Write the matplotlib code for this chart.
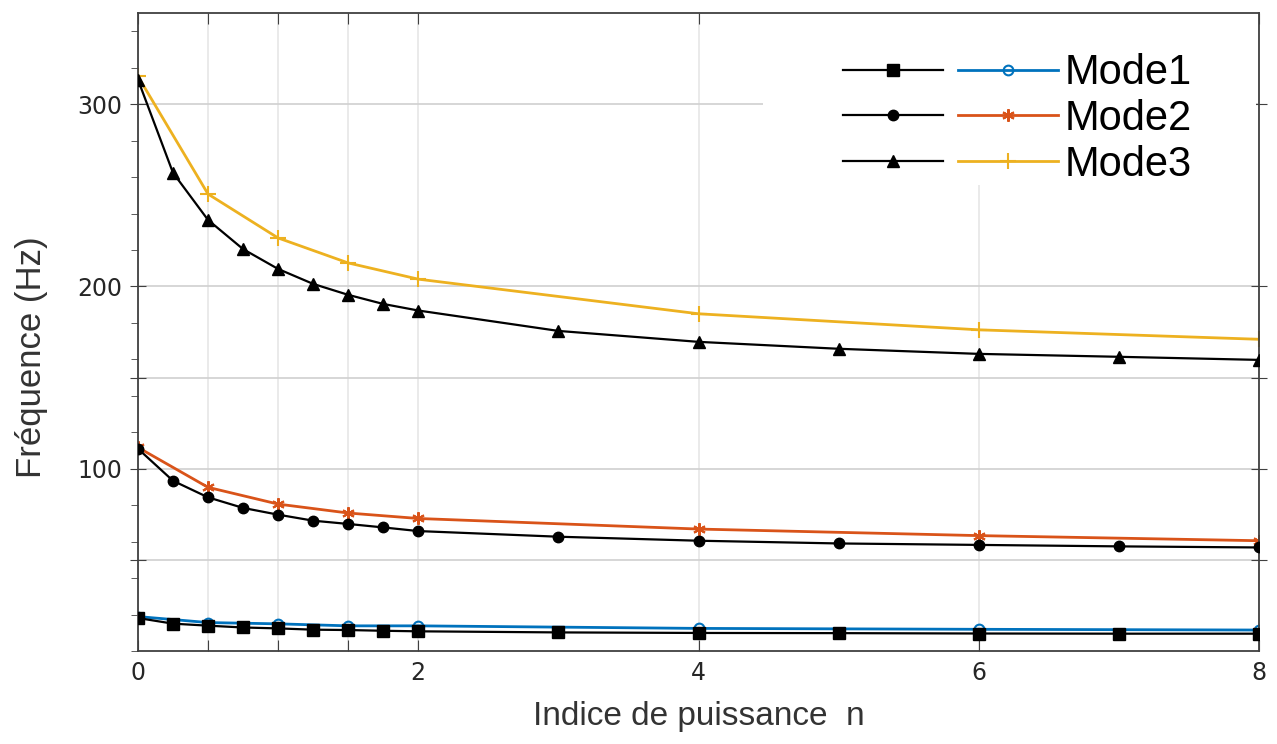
import matplotlib
matplotlib.use('Agg')
import matplotlib.pyplot as plt
from matplotlib.legend_handler import HandlerTuple
from matplotlib.patches import Rectangle
from matplotlib.ticker import FixedLocator, MultipleLocator

# === DATA ===
n_fgm = [0, 0.25, 0.5, 0.75, 1, 1.25, 1.5, 1.75, 2, 3, 4, 5, 6, 7, 8]
mode1_fgm = [18.1, 15.0, 13.9, 12.9, 12.4, 11.7, 11.5, 11.1, 10.8, 10.2, 9.9, 9.8, 9.6, 9.5, 9.5]
mode2_fgm = [111.0, 93.4, 84.3, 78.5, 74.8, 71.5, 69.7, 67.8, 65.8, 62.7, 60.5, 59.0, 58.2, 57.4, 56.8]
mode3_fgm = [313.5, 262.4, 236.5, 220.5, 209.6, 201.4, 195.4, 190.4, 186.8, 175.6, 169.6, 165.8, 163.0, 161.4, 159.7]

n_ref = [0, 0.5, 1, 1.5, 2, 4, 6, 8]
mode1_ref = [18.9, 15.6, 14.9, 13.8, 13.8, 12.4, 11.9, 11.5]
mode2_ref = [111.7, 89.8, 80.6, 75.7, 72.7, 66.9, 63.3, 60.5]
mode3_ref = [315.3, 250.7, 226.6, 212.9, 204.0, 185.0, 176.2, 171.0]

labels = ['Mode1', 'Mode2', 'Mode3']
x_ticks = [0, 0.5, 1, 1.5, 2, 4, 6, 8]
x_ticklabels = ['0', '', '', '', '2', '4', '6', '8']
y_ticks = [50, 100, 150, 200, 300]
y_ticklabels = ['', '100', '', '200', '300']

# === PLOT ===
fig = plt.figure(figsize=(12.77, 7.44), dpi=100)
ax = fig.add_axes([0.108, 0.125, 0.878, 0.8575])

k1, = ax.plot(n_fgm, mode1_fgm, color='black', lw=1.6, marker='s', ms=8, zorder=3)
k2, = ax.plot(n_fgm, mode2_fgm, color='black', lw=1.6, marker='o', ms=7.5, zorder=3)
k3, = ax.plot(n_fgm, mode3_fgm, color='black', lw=1.6, marker='^', ms=9, zorder=3)

c1, = ax.plot(n_ref, mode1_ref, color='#0072BD', lw=2, marker='o', ms=7,
              mfc='none', mew=1.5, zorder=2.5)
c2, = ax.plot(n_ref, mode2_ref, color='#D95319', lw=2, marker=(6, 2, 0), ms=9,
              mew=1.5, zorder=2.5)
c3, = ax.plot(n_ref, mode3_ref, color='#EDB120', lw=2, marker='+', ms=12,
              mew=1.5, zorder=2.5)

ax.set_xlim(0, 8)
ax.set_ylim(0, 350)

ax.xaxis.set_major_locator(FixedLocator(x_ticks))
ax.set_xticklabels(x_ticklabels)
ax.yaxis.set_major_locator(FixedLocator(y_ticks))
ax.set_yticklabels(y_ticklabels)
ax.yaxis.set_minor_locator(MultipleLocator(20))

ax.grid(True, axis='y', which='major', color='#d0d0d0', lw=1.2, zorder=1)
ax.grid(True, axis='x', which='major', color='#e4e4e4', lw=1.1, zorder=1)
ax.set_axisbelow(True)

# white area behind the legend hides the grid there
ax.add_patch(Rectangle((0.5575, 0.73), 0.44, 0.27, transform=ax.transAxes,
                       facecolor='white', edgecolor='none', zorder=1.8))

for s in ax.spines.values():
    s.set_color('#404040')
    s.set_linewidth(1.3)

ax.tick_params(axis='x', which='major', direction='in', length=8, top=True,
               labelsize=17, labelcolor='#262626', color='#404040', pad=7)
ax.tick_params(axis='y', which='major', direction='inout', length=12, right=True,
               labelsize=17, labelcolor='#262626', color='#404040', pad=5)
ax.tick_params(axis='y', which='minor', direction='out', length=5, color='#404040')

ax.set_xlabel('Indice de puissance  n', family='Liberation Sans', fontsize=24,
              color='#333333', labelpad=12)
ax.set_ylabel('Fréquence (Hz)', family='Liberation Sans', fontsize=25,
              color='#333333')
ax.yaxis.set_label_coords(-0.08, 0.46)

leg = ax.legend([(k1, c1), (k2, c2), (k3, c3)], labels,
                handler_map={tuple: HandlerTuple(ndivide=None, pad=0.36)},
                loc='upper left', bbox_to_anchor=(0.629, 0.937),
                borderpad=0, borderaxespad=0, frameon=False,
                handlelength=5.15, handletextpad=0.17, labelspacing=0.14,
                prop={'family': 'Liberation Sans', 'size': 30})
leg.set_zorder(5)
for h in leg.legend_handles:
    for ln in getattr(h, 'get_children', lambda: [])():
        ln.set_linewidth(2.5)

plt.savefig('out.png', dpi=100)
